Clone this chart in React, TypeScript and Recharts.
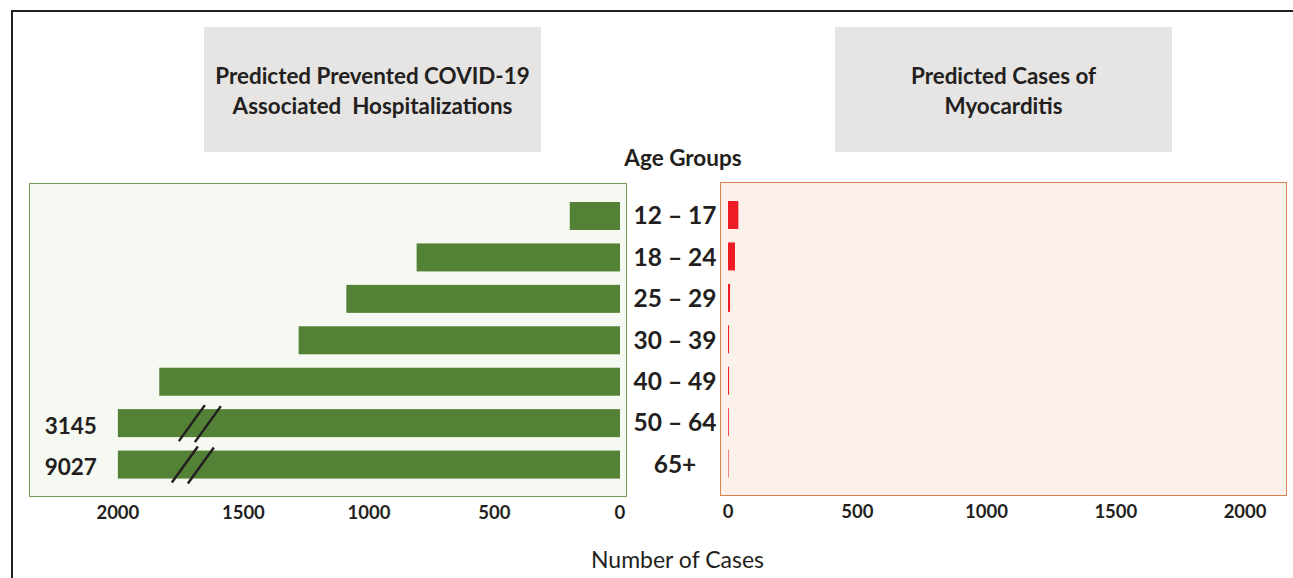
import { BarChart, Bar, XAxis, YAxis, LabelList } from "recharts"

const ageGroups = ["12 – 17", "18 – 24", "25 – 29", "30 – 39", "40 – 49", "50 – 64", "65+"]
const preventedHosp = [200, 810, 1090, 1280, 1835, 2000, 2000]
const actualHosp = [null, null, null, null, null, 3145, 9027]
const myocarditisCases = [40, 27, 8, 4, 4, 3, 2]
const axisTicks = [0, 500, 1000, 1500, 2000]

const data = ageGroups.map((age, i) => ({
  age,
  prevented: preventedHosp[i],
  actual: actualHosp[i],
  myocarditis: myocarditisCases[i],
}))

const ink = "#231f20"
const font = "Lato, 'Open Sans', sans-serif"

const BrokenBar = (props: any) => {
  const { x, y, width, height, fill, payload } = props
  const left = Math.min(x, x + width)
  const w = Math.abs(width)
  const cy = y + height / 2
  // break marks sit a bit further left on the bottom bar
  const bx = left + (payload.actual > 5000 ? 67 : 74)
  return (
    <g>
      <rect x={left} y={y} width={w} height={height} fill={fill} />
      {payload.actual && (
        <g stroke={ink} strokeWidth={2.5}>
          <line x1={bx - 13} y1={cy + 18} x2={bx + 13} y2={cy - 18} />
          <line x1={bx + 3} y1={cy + 19} x2={bx + 29} y2={cy - 17} />
        </g>
      )}
    </g>
  )
}

const ActualLabel = (props: any) => {
  const { x, y, width, height, value } = props
  if (!value) return null
  const left = Math.min(x, x + width)
  return (
    <text x={left - 21} y={y + height / 2 + 3} dy="0.35em" textAnchor="end" fontFamily={font} fontWeight={700} fontSize={22.5} fill={ink}>
      {value}
    </text>
  )
}

const xTick = (props: any) => (
  <text x={props.x} y={330} dy="0.35em" textAnchor="middle" fontFamily={font} fontWeight={700} fontSize={18.5} fill={ink}>
    {props.payload.value}
  </text>
)

const ageTick = (props: any) => (
  <text x={646} y={props.y} dy="0.35em" textAnchor="middle" fontFamily={font} fontWeight={700} fontSize={24.5} fill={ink}>
    {props.payload.value}
  </text>
)

const titleBox = (left: number, lines: string[]) => (
  <div
    style={{
      position: "absolute",
      left,
      top: 27,
      width: 337,
      height: 125,
      background: "#e6e5e3",
      display: "flex",
      flexDirection: "column",
      justifyContent: "center",
      alignItems: "center",
      paddingTop: 2,
      boxSizing: "border-box",
      fontFamily: font,
      fontWeight: 700,
      fontSize: 22.4,
      lineHeight: "30px",
      color: ink,
      whiteSpace: "pre",
    }}
  >
    {lines.map((l) => (
      <div key={l}>{l}</div>
    ))}
  </div>
)

export default function App() {
  return (
    <div style={{ position: "absolute", left: 0, top: 0, width: 1293, height: 578, background: "#fff", overflow: "hidden" }}>
      <div style={{ position: "absolute", left: 11, top: 10, width: 1290, height: 600, borderTop: `2px solid ${ink}`, borderLeft: `2px solid ${ink}` }} />
      {titleBox(204, ["Predicted Prevented COVID-19", "Associated  Hospitalizations"])}
      {titleBox(835, ["Predicted Cases of", "Myocarditis"])}
      <div style={{ position: "absolute", left: 583, top: 144, width: 200, textAlign: "center", fontFamily: font, fontWeight: 700, fontSize: 22.5, color: ink }}>
        Age Groups
      </div>

      <div style={{ position: "absolute", left: 29, top: 183, width: 598, height: 314, boxSizing: "border-box", border: "1.5px solid #6f9b5b", background: "#f6f9f2" }} />
      <div style={{ position: "absolute", left: 720, top: 182, width: 567, height: 314, boxSizing: "border-box", border: "1.5px solid #d9834f", background: "#fcf1ea" }} />

      <div style={{ position: "absolute", left: 29, top: 183 }}>
        <BarChart width={691} height={354} data={data} layout="vertical" margin={{ top: 0, right: 0, bottom: 0, left: 0 }}>
          <XAxis
            type="number"
            domain={[-28, 2354]}
            reversed
            ticks={axisTicks}
            allowDataOverflow
            axisLine={false}
            tickLine={false}
            height={40}
            tick={xTick}
            interval={0}
          />
          <YAxis
            type="category"
            dataKey="age"
            orientation="right"
            width={93}
            axisLine={false}
            tickLine={false}
            tick={ageTick}
            padding={{ top: 12, bottom: 12 }}
            interval={0}
          />
          <Bar dataKey="prevented" fill="#538135" barSize={28} isAnimationActive={false} shape={BrokenBar}>
            <LabelList dataKey="actual" content={ActualLabel} />
          </Bar>
        </BarChart>
      </div>

      <div style={{ position: "absolute", left: 720, top: 182 }}>
        <BarChart width={567} height={354} data={data} layout="vertical" margin={{ top: 0, right: 0, bottom: 0, left: 0 }}>
          <XAxis
            type="number"
            domain={[-31, 2162]}
            ticks={axisTicks}
            allowDataOverflow
            axisLine={false}
            tickLine={false}
            height={40}
            tick={xTick}
            interval={0}
          />
          <YAxis type="category" dataKey="age" hide padding={{ top: 12, bottom: 12 }} />
          <Bar dataKey="myocarditis" fill="#ed1c24" barSize={28} isAnimationActive={false} />
        </BarChart>
      </div>

      <div style={{ position: "absolute", left: 530, top: 545, width: 295, textAlign: "center", fontFamily: font, fontSize: 23, color: ink }}>
        Number of Cases
      </div>
    </div>
  )
}
